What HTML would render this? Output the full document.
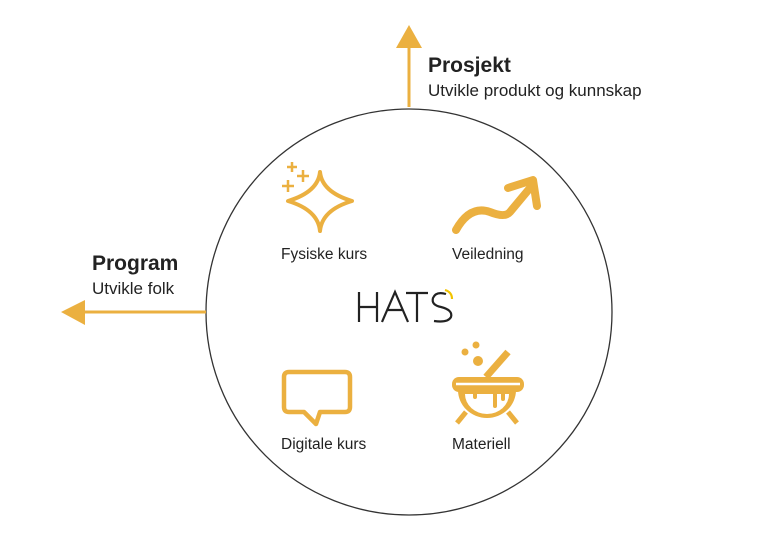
<!DOCTYPE html>
<html><head><meta charset="utf-8"><style>
html,body{margin:0;padding:0;background:#fff;width:760px;height:540px;overflow:hidden}
text{font-family:"Liberation Sans",sans-serif;fill:#222}
</style></head><body>
<svg width="760" height="540" viewBox="0 0 760 540" xmlns="http://www.w3.org/2000/svg">
<circle cx="409" cy="312" r="203" fill="none" stroke="#333" stroke-width="1.3"/>
<line x1="409" y1="107" x2="409" y2="45" stroke="#EBB040" stroke-width="3"/>
<polygon points="396,48 422,48 409,25" fill="#EBB040"/>
<line x1="206" y1="312" x2="82" y2="312" stroke="#EBB040" stroke-width="3"/>
<polygon points="85,300 85,325 61,312" fill="#EBB040"/>
<text x="428" y="72" font-size="21" font-weight="bold">Prosjekt</text>
<text x="428" y="96" font-size="17">Utvikle produkt og kunnskap</text>
<text x="92" y="270" font-size="21" font-weight="bold">Program</text>
<text x="92" y="294" font-size="17">Utvikle folk</text>
<text x="281" y="259" font-size="15.5">Fysiske kurs</text>
<text x="452" y="259" font-size="15.5">Veiledning</text>
<text x="281" y="449" font-size="15.5">Digitale kurs</text>
<text x="452" y="449" font-size="15.5">Materiell</text>
<!-- HATS -->
<g stroke="#222" stroke-width="2.2" fill="none">
<path d="M359 292V322M377 292V322M359 307H377"/>
<path d="M382 322L395 292L408 322M388 310H402"/>
<path d="M406 293H428M417 293V322"/>
<path d="M446 294Q436 291 433 298Q431 305 441 307Q453 310 451 317Q448 323 434 321"/>
</g>
<path d="M445 290Q452 292 452 299" stroke="#F2C400" stroke-width="2.2" fill="none"/>
<!-- sparkles -->
<g fill="none" stroke="#EBB040" stroke-width="4" stroke-linejoin="round">
<path d="M320 172Q322 192 352 201Q322 210 320 231Q318 210 288 201Q318 192 320 172Z"/>
</g>
<g stroke="#EBB040" stroke-width="2.5">
<path d="M292 162V172M287 167H297M303 170V182M297 176H309M288 180V192M282 186H294"/>
</g>
<!-- trend arrow -->
<path d="M456 230Q470 205 490 212Q505 218 510 212L530 188" fill="none" stroke="#EBB040" stroke-width="8" stroke-linecap="round"/>
<path d="M508 188L533 180L537 206" fill="none" stroke="#EBB040" stroke-width="8" stroke-linecap="round" stroke-linejoin="round"/>
<!-- speech bubble -->
<path d="M289 372H345Q350 372 350 377V407Q350 412 345 412H320L316 424L304 412H289Q284 412 284 407V377Q284 372 289 372Z" fill="none" stroke="#EBB040" stroke-width="4.5" stroke-linejoin="round"/>
<!-- cauldron -->
<g fill="#EBB040">
<circle cx="465" cy="352" r="3.5"/><circle cx="476" cy="345" r="3.5"/><circle cx="478" cy="361" r="5"/>
<rect x="452" y="377" width="72" height="15" rx="7"/>
<path d="M458 390A29 28 0 0 0 516 390Z"/>
</g>
<path d="M465 394A22 20 0 0 0 509 394" fill="#fff"/>
<line x1="486" y1="377" x2="508" y2="352" stroke="#EBB040" stroke-width="7"/>
<line x1="456" y1="384" x2="520" y2="384" stroke="#fff" stroke-width="2.5"/>
<path d="M495 390V406M503 390V399M475 390V397" stroke="#EBB040" stroke-width="4" stroke-linecap="round"/>
<path d="M466 412L457 423M508 412L517 423" stroke="#EBB040" stroke-width="5"/>
</svg>
</body></html>
